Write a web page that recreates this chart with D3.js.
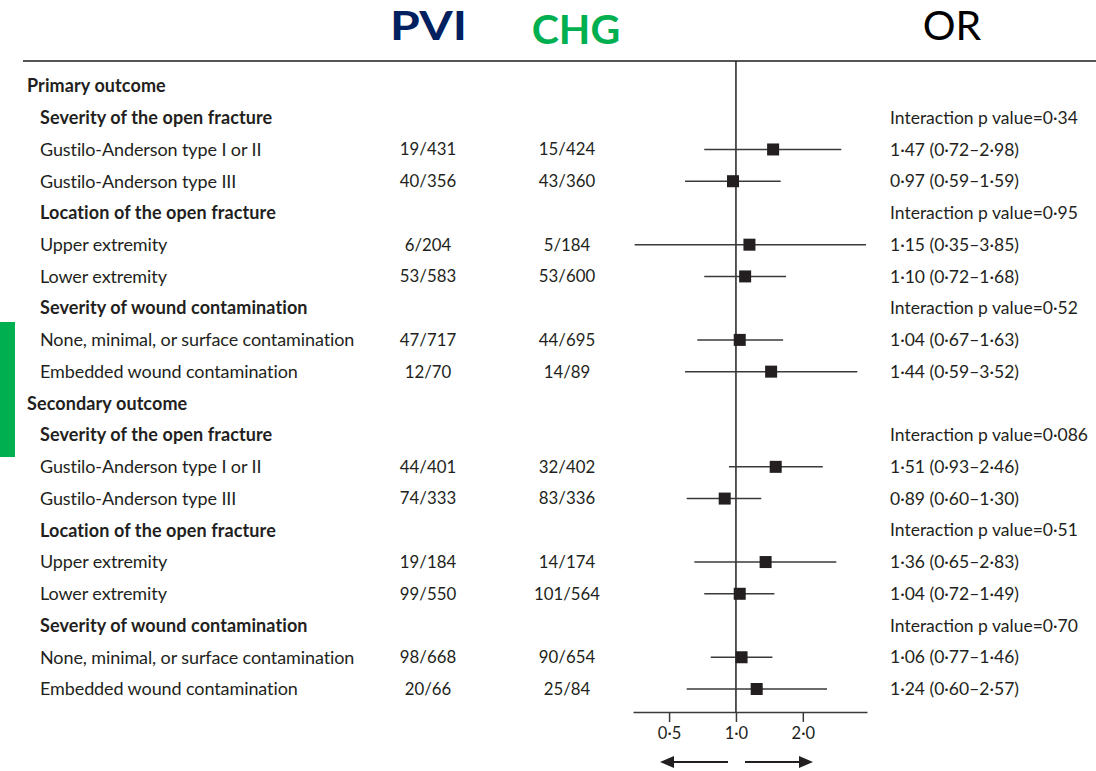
<!DOCTYPE html>
<html>
<head>
<meta charset="utf-8">
<script src="https://cdn.jsdelivr.net/npm/d3@7"></script>
<style>
  html, body { margin: 0; padding: 0; background: #fff; }
  svg { display: block; }
</style>
</head>
<body>
<svg id="chart" width="1096" height="771"></svg>
<script>
// ---- data ----
const rowLabels = [
  "Primary outcome",
  "Severity of the open fracture",
  "Gustilo-Anderson type I or II",
  "Gustilo-Anderson type III",
  "Location of the open fracture",
  "Upper extremity",
  "Lower extremity",
  "Severity of wound contamination",
  "None, minimal, or surface contamination",
  "Embedded wound contamination",
  "Secondary outcome",
  "Severity of the open fracture",
  "Gustilo-Anderson type I or II",
  "Gustilo-Anderson type III",
  "Location of the open fracture",
  "Upper extremity",
  "Lower extremity",
  "Severity of wound contamination",
  "None, minimal, or surface contamination",
  "Embedded wound contamination"
];
const rowTypes = ["outcome","group","item","item","group","item","item","group","item","item",
                  "outcome","group","item","item","group","item","item","group","item","item"];
const pviCounts = [null,null,"19/431","40/356",null,"6/204","53/583",null,"47/717","12/70",
                   null,null,"44/401","74/333",null,"19/184","99/550",null,"98/668","20/66"];
const chgCounts = [null,null,"15/424","43/360",null,"5/184","53/600",null,"44/695","14/89",
                   null,null,"32/402","83/336",null,"14/174","101/564",null,"90/654","25/84"];
const orValues = [null,null,1.47,0.97,null,1.15,1.10,null,1.04,1.44,
                  null,null,1.51,0.89,null,1.36,1.04,null,1.06,1.24];
const ciLow    = [null,null,0.72,0.59,null,0.35,0.72,null,0.67,0.59,
                  null,null,0.93,0.60,null,0.65,0.72,null,0.77,0.60];
const ciHigh   = [null,null,2.98,1.59,null,3.85,1.68,null,1.63,3.52,
                  null,null,2.46,1.30,null,2.83,1.49,null,1.46,2.57];
const pInteraction = [null,"0·34",null,null,"0·95",null,null,"0·52",null,null,
                      null,"0·086",null,null,"0·51",null,null,"0·70",null,null];
const axisTicks = [0.5, 1, 2];
const headers = ["PVI", "CHG", "OR"];

// ---- setup ----
const svg = d3.select("#chart");
const textColor = "#231f20";
const bodyFont = "Lato, 'Open Sans', sans-serif";

const x = d3.scaleLog().base(2).domain([0.344, 3.89]).range([633, 867]);
const y = d3.scaleLinear().domain([0, rowLabels.length - 1]).range([86, 689]);
const fmt = v => v.toFixed(2).replace(".", "·");

// green side bar
svg.append("rect").attr("x", 0).attr("y", 322).attr("width", 15).attr("height", 135).attr("fill", "#00b050");

// headers
svg.append("text").attr("x", 390).attr("y", 40)
  .attr("font-family", bodyFont).attr("font-weight", 700).attr("font-size", 41)
  .attr("textLength", 77).attr("lengthAdjust", "spacingAndGlyphs")
  .attr("fill", "#002060").text(headers[0]);
svg.append("text").attr("x", 576).attr("y", 44).attr("text-anchor", "middle")
  .attr("font-family", bodyFont).attr("font-weight", 700).attr("font-size", 41)
  .attr("fill", "#00b050").text(headers[1]);
svg.append("text").attr("x", 952).attr("y", 40).attr("text-anchor", "middle")
  .attr("font-family", bodyFont).attr("font-weight", 400).attr("font-size", 41)
  .attr("fill", "#000").text(headers[2]);

// top rule
svg.append("line").attr("x1", 23).attr("x2", 1096).attr("y1", 61).attr("y2", 61)
  .attr("stroke", "#555").attr("stroke-width", 2);

// reference line at 1
svg.append("line").attr("x1", x(1)).attr("x2", x(1)).attr("y1", 61).attr("y2", 712)
  .attr("stroke", textColor).attr("stroke-width", 1.5);

const rows = rowLabels.map((l, i) => ({
  label: l, type: rowTypes[i], pvi: pviCounts[i], chg: chgCounts[i],
  or: orValues[i], lo: ciLow[i], hi: ciHigh[i], p: pInteraction[i], i
}));

const g = svg.append("g");

// labels
g.selectAll("text.lab").data(rows).join("text")
  .attr("class", "lab")
  .attr("x", d => d.type === "outcome" ? 27 : 40)
  .attr("y", d => y(d.i))
  .attr("dy", "0.35em")
  .attr("font-family", bodyFont)
  .attr("font-size", 18)
  .attr("font-weight", d => d.type === "item" ? 400 : 700)
  .attr("letter-spacing", d => d.type === "item" ? -0.1 : 0.1)
  .attr("fill", textColor)
  .text(d => d.label);

// counts
g.selectAll("text.pvi").data(rows.filter(d => d.pvi)).join("text")
  .attr("class", "pvi").attr("x", 428).attr("y", d => y(d.i)).attr("dy", "0.35em")
  .attr("text-anchor", "middle").attr("font-family", bodyFont).attr("font-size", 16.8)
  .attr("fill", textColor).text(d => d.pvi);
g.selectAll("text.chg").data(rows.filter(d => d.chg)).join("text")
  .attr("class", "chg").attr("x", 567).attr("y", d => y(d.i)).attr("dy", "0.35em")
  .attr("text-anchor", "middle").attr("font-family", bodyFont).attr("font-size", 16.8)
  .attr("fill", textColor).text(d => d.chg);

// OR text
g.selectAll("text.ort").data(rows.filter(d => d.or != null || d.p)).join("text")
  .attr("class", "ort").attr("x", 890).attr("y", d => y(d.i)).attr("dy", "0.35em")
  .attr("font-family", bodyFont).attr("font-size", 17.5).attr("fill", textColor)
  .text(d => d.p ? `Interaction p value=${d.p}` : `${fmt(d.or)} (${fmt(d.lo)}–${fmt(d.hi)})`);

// CI lines
const est = rows.filter(d => d.or != null);
g.selectAll("line.ci").data(est).join("line")
  .attr("class", "ci")
  .attr("x1", d => x(d.lo)).attr("x2", d => x(d.hi))
  .attr("y1", d => y(d.i)).attr("y2", d => y(d.i))
  .attr("stroke", "#3a3a3a").attr("stroke-width", 1.5);

// squares
const sq = 12;
g.selectAll("rect.pt").data(est).join("rect")
  .attr("class", "pt")
  .attr("x", d => x(d.or) - sq / 2).attr("y", d => y(d.i) - sq / 2)
  .attr("width", sq).attr("height", sq).attr("fill", textColor);

// axis
const axis = d3.axisBottom(x).tickValues(axisTicks).tickSize(10).tickSizeOuter(0)
  .tickFormat(d => d.toFixed(1).replace(".", "·"));
const ax = svg.append("g").attr("transform", "translate(0,712)").call(axis);
ax.select(".domain").attr("stroke", "#3a3a3a").attr("stroke-width", 1.5);
ax.selectAll(".tick line").attr("stroke", "#3a3a3a").attr("stroke-width", 1.5);
ax.selectAll(".tick text").attr("font-family", bodyFont).attr("font-size", 16.5)
  .attr("fill", textColor).attr("dy", "0.85em");

// arrows
const ay = 762;
function arrow(x1, x2) {
  const dir = Math.sign(x2 - x1);
  const headLen = 14, half = 6;
  svg.append("line").attr("x1", x1).attr("x2", x2 - dir * headLen).attr("y1", ay).attr("y2", ay)
    .attr("stroke", textColor).attr("stroke-width", 2);
  svg.append("path")
    .attr("d", `M${x2},${ay} L${x2 - dir * headLen},${ay - half} L${x2 - dir * headLen},${ay + half} Z`)
    .attr("fill", textColor);
}
arrow(728, 660);
arrow(745, 813);
</script>
</body>
</html>
